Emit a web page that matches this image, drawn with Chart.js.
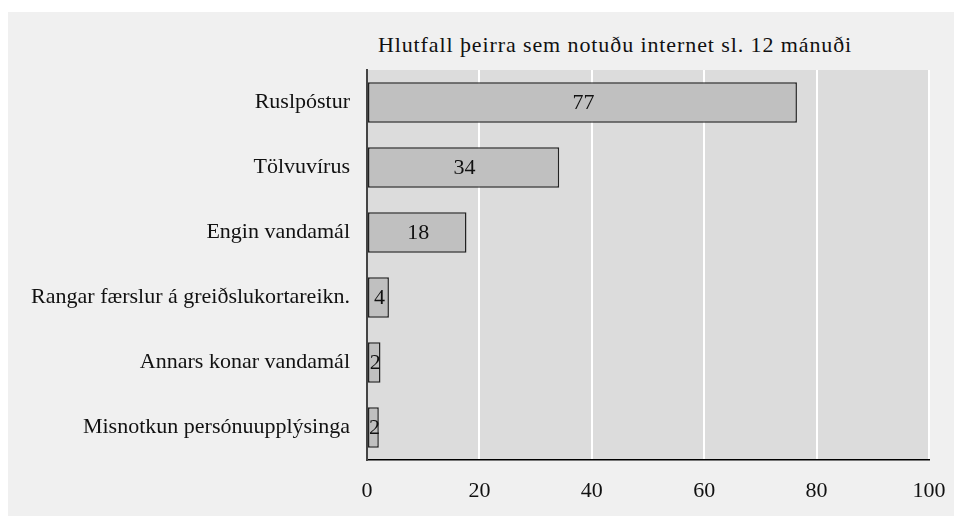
<!DOCTYPE html>
<html>
<head>
<meta charset="utf-8">
<script src="https://cdn.jsdelivr.net/npm/chart.js@4"></script>
<style>
  body { margin: 0; background: #ffffff; width: 954px; height: 516px; overflow: hidden; }
  #panel { position: absolute; left: 8px; top: 12px; width: 946px; height: 504px; background: #f0f0f0; }
  #title { position: absolute; left: 0; width: 1214px; top: 20px; text-align: center;
           font: 22px "Liberation Serif", serif; color: #111; letter-spacing: 0.9px; }
  canvas { position: absolute; left: 0; top: 0; }
</style>
</head>
<body>
<div id="panel">
  <div id="title">Hlutfall þeirra sem notuðu internet sl. 12 mánuði</div>
  <canvas id="chart" width="946" height="504"></canvas>
</div>
<script>
// categories and values
const categories = [
    'Ruslpóstur',
    'Tölvuvírus',
    'Engin vandamál',
    'Rangar færslur á greiðslukortareikn.',
    'Annars konar vandamál',
    'Misnotkun persónuupplýsinga'
];
const values = [76.5, 34.2, 17.7, 3.9, 2.4, 2.1];
const xTicks = [0, 20, 40, 60, 80, 100];

const serif = '"Liberation Serif", "Times New Roman", serif';

// grey plot background
const plotBg = {
    id: 'plotBg',
    beforeDraw(c) {
        const a = c.chartArea;
        c.ctx.save();
        c.ctx.fillStyle = '#dcdcdc';
        c.ctx.fillRect(a.left, a.top, a.right - a.left, a.bottom - a.top);
        c.ctx.restore();
    }
};

// numbers in the middle of each bar
const barLabels = {
    id: 'barLabels',
    afterDatasetsDraw(c) {
        const ctx = c.ctx;
        const meta = c.getDatasetMeta(0);
        ctx.save();
        ctx.font = '22px ' + serif;
        ctx.fillStyle = '#111';
        ctx.textAlign = 'center';
        ctx.textBaseline = 'middle';
        meta.data.forEach((bar, i) => {
            const x = (bar.x + bar.base) / 2;
            ctx.fillText(Math.round(values[i]), x + 1, bar.y + 1);
        });
        ctx.restore();
    }
};

new Chart(document.getElementById('chart').getContext('2d'), {
    type: 'bar',
    data: {
        labels: categories,
        datasets: [{
            data: values,
            backgroundColor: '#c0c0c0',
            borderColor: '#222222',
            borderWidth: 1.5,
            borderSkipped: false,
            categoryPercentage: 0.62,
            barPercentage: 1
        }]
    },
    options: {
        indexAxis: 'y',
        responsive: false,
        animation: false,
        layout: { padding: { left: 0, right: 25, top: 58, bottom: 0 } },
        plugins: {
            legend: { display: false },
            title: { display: false },
            tooltip: { enabled: false }
        },
        scales: {
            x: {
                min: 0,
                max: 100,
                afterBuildTicks(s) { s.ticks = xTicks.map(v => ({ value: v })); },
                afterFit(s) { s.height = 56; s.paddingLeft = 0; s.paddingRight = 0; },
                grid: { color: '#ffffff', lineWidth: 2, drawTicks: false },
                border: { color: '#000000', width: 1.5 },
                ticks: { font: { family: serif, size: 22 }, color: '#111', padding: 18 }
            },
            y: {
                afterFit(s) { s.width = 359; },
                grid: { display: false, drawTicks: false },
                border: { color: '#444444', width: 2 },
                ticks: { font: { family: serif, size: 22 }, color: '#111', padding: 17 }
            }
        }
    },
    plugins: [plotBg, barLabels]
});
</script>
</body>
</html>
